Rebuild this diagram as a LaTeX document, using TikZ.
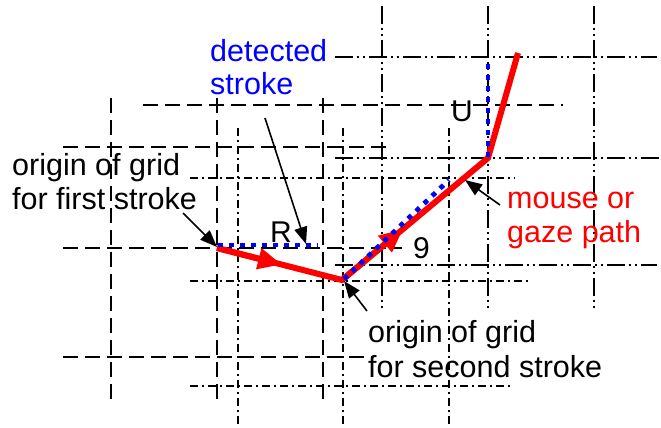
\documentclass[tikz,border=0pt]{standalone}
\usepackage{fontspec}
\setmainfont{Liberation Sans}
\usetikzlibrary{arrows.meta,calc}
\begin{document}
\begin{tikzpicture}[x=1pt,y=-1pt,
  gridA/.style={line width=1.8pt, dash pattern=on 15pt off 7pt},
  gridB/.style={line width=1.8pt, dash pattern=on 8pt off 4pt on 2pt off 4pt},
  gridC/.style={line width=1.8pt, dash pattern=on 18pt off 4pt on 2pt off 4pt on 2pt off 4pt},
  redpath/.style={line width=6pt, red, line join=miter},
  redtip/.style={line width=6pt, red, -{Triangle[length=24pt,width=20pt]}},
  bluestroke/.style={line width=4.8pt, blue, dash pattern=on 4.8pt off 6.2pt},
  callout/.style={line width=1.6pt, -{Triangle[length=17pt,width=13pt]}},
  lbl/.style={font=\fontsize{30.5}{34}\selectfont, inner sep=0pt, anchor=base west},
  glyph/.style={font=\fontsize{30}{34}\selectfont, inner sep=0pt, anchor=base west},
]
\useasboundingbox (0,0) rectangle (661,428);
% grid for first stroke (dashed)
\foreach \x in {111,217,323} \draw[gridA] (\x,98) -- (\x,400);
\draw[gridA] (143,105) -- (563,105);
\draw[gridA] (63,147) -- (387,147);
\draw[gridA] (63,248) -- (402,248);
\draw[gridA] (63,357) -- (373,357);
% grid for second stroke (dash-dot)
\foreach \x in {238,343,449} \draw[gridB] (\x,128) -- (\x,428);
\draw[gridB] (190,178) -- (515,178);
\draw[gridB] (190,281) -- (528,281);
\draw[gridB] (190,386) -- (513,386);
% grid for third stroke (dash-dot-dot)
\foreach \x in {382,488,594} \draw[gridC] (\x,6) -- (\x,310);
\draw[gridC] (335,57) -- (657,57);
\draw[gridC] (335,158) -- (660,158);
\draw[gridC] (335,265) -- (657,265);
% mouse / gaze path
\coordinate (o1) at (217,248);
\coordinate (o2) at (342,280);
\coordinate (o3) at (488,158);
\coordinate (pend) at (518,53);
\draw[redpath] (o1) -- (o2) -- (o3) -- (pend);
\draw[redtip] (o1) -- ($(o1)!0.52!(o2)$);
\draw[redtip] (o2) -- ($(o2)!0.42!(o3)$);
% detected strokes
\coordinate (r0) at (218,245);
\coordinate (r1) at (318,245);
\coordinate (n0) at (344,279);
\coordinate (n1) at (449,180);
\coordinate (u0) at (488,157);
\coordinate (u1) at (488,59);
\draw[bluestroke] (r0) -- (r1);
\draw[bluestroke] (n0) -- (n1);
\draw[bluestroke] (u0) -- (u1);
% stroke letters
\node[glyph] (R) at (270,242) {R};
\node[glyph] (nine) at (413,258) {9};
\node[glyph] (U) at (451,121) {U};
% labels
\node[lbl, text=blue] (det1) at (210,62) {detected};
\node[lbl, text=blue] (det2) at (210,95) {stroke};
\node[lbl] (og1) at (12,175) {origin of grid};
\node[lbl] (og2) at (12,209) {for first stroke};
\node[lbl] (os1) at (368,342) {origin of grid};
\node[lbl] (os2) at (368,377) {for second stroke};
\node[lbl, text=red] (mg1) at (507,208) {mouse or};
\node[lbl, text=red] (mg2) at (507,242) {gaze path};
% callout arrows
\coordinate (a1s) at (183,213);
\coordinate (a1e) at (217,247);
\coordinate (a2s) at (265,118);
\coordinate (a2e) at (306,244);
\coordinate (a3s) at (367,311);
\coordinate (a3e) at (344,281);
\coordinate (a4s) at (500,205);
\coordinate (a4e) at (465,180);
\draw[callout] (a1s) -- (a1e);
\draw[callout] (a2s) -- (a2e);
\draw[callout] (a3s) -- (a3e);
\draw[callout] (a4s) -- (a4e);
\end{tikzpicture}
\end{document}
